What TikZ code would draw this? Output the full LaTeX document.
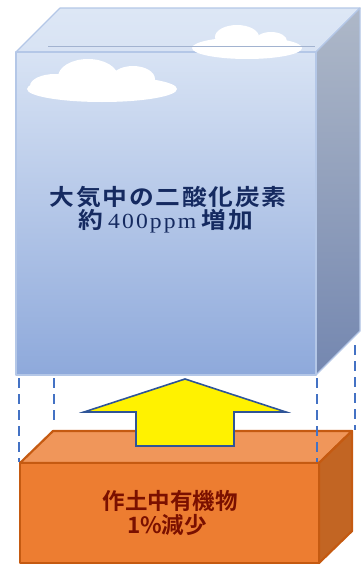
\documentclass[tikz,border=0pt]{standalone}
\usepackage{graphicx}
\usepackage{fontspec}
\newfontfamily\cjk{Noto Sans CJK JP Bold}[LetterSpace=7]
\newfontfamily\cjksoil{Noto Sans CJK JP Bold}
\newfontfamily\numfont{Liberation Serif}[LetterSpace=9]
\definecolor{skytop}{HTML}{D8E3F4}
\definecolor{skybot}{HTML}{8EA9DB}
\definecolor{skylid}{HTML}{DDE7F5}
\definecolor{skyside}{HTML}{AEB8C8}
\definecolor{skysideb}{HTML}{7487B0}
\definecolor{skyedge}{HTML}{B4C7E7}
\definecolor{soilfront}{HTML}{ED7D31}
\definecolor{soiltop}{HTML}{F0965A}
\definecolor{soilside}{HTML}{C26523}
\definecolor{soiledge}{HTML}{C55A11}
\definecolor{navytext}{HTML}{152A60}
\definecolor{redtext}{HTML}{7A1000}
\definecolor{guide}{HTML}{4472C4}
\definecolor{arrowedge}{HTML}{2F5597}
\tikzset{
  skyface/.style={draw=skyedge, line width=1.2pt, line join=round},
  soilface/.style={draw=soiledge, line width=2.2pt, line join=round},
  guideline/.style={draw=guide, line width=2.8pt, dash pattern=on 10pt off 6pt},
  cloudpart/.style={fill=white, draw=none},
  skylabel/.style={text=navytext, inner sep=0pt, anchor=center},
  soillabel/.style={text=redtext, inner sep=0pt, anchor=center},
}
\begin{document}
\begin{tikzpicture}[x=1pt, y=-1pt]
\useasboundingbox (0,0) rectangle (362,565);

% --- atmosphere block ---
\path[skyface, top color=skylid, bottom color=skytop]
  (16,52) -- (60,8) -- (360,8) -- (316,52) -- cycle;
\path[skyface, top color=skyside, bottom color=skysideb]
  (316,52) -- (360,8) -- (360,331) -- (316,375) -- cycle;
\path[skyface, top color=skytop, bottom color=skybot]
  (16,52) rectangle (316,375);

% clouds
\fill[cloudpart] (102,89) ellipse [x radius=75, y radius=13];
\fill[cloudpart] (88,77) ellipse [x radius=30, y radius=18];
\fill[cloudpart] (133,79) ellipse [x radius=22, y radius=13];
\fill[cloudpart] (55,86) ellipse [x radius=25, y radius=12];
\fill[cloudpart] (247,48) ellipse [x radius=55, y radius=11];
\fill[cloudpart] (237,37) ellipse [x radius=22, y radius=12];
\fill[cloudpart] (271,41) ellipse [x radius=16, y radius=9];
\draw[skyedge!90!black, line width=0.9pt] (48,46) -- (315,46);

% labels set in a slightly widened bold Gothic
\node[skylabel] (skyA) at (168,197) {\scalebox{1.1}[1]{\cjk\fontsize{22.5}{24}\selectfont 大気中の二酸化炭素}};
\node[skylabel] (skyB) at (166,221) {\scalebox{1.1}[1]{\fontsize{22.5}{24}\selectfont{\cjk 約}\hspace{4pt}{\numfont\fontsize{21.5}{24}\selectfont 400ppm}\hspace{5pt}{\cjk 増加}}};

% --- soil block ---
\path[soilface, fill=soiltop] (20,463) -- (53,431) -- (352,431) -- (319,463) -- cycle;
\path[soilface, fill=soilside] (319,463) -- (352,431) -- (352,531) -- (319,563) -- cycle;
\path[soilface, fill=soilfront] (20,463) rectangle (319,563);

\node[soillabel] (soilA) at (170,501) {\cjksoil\fontsize{22.5}{24}\selectfont 作土中有機物};
\node[soillabel] (soilB) at (167,525) {\cjksoil\fontsize{22.5}{24}\selectfont 1\%減少};

% --- projection guides ---
\coordinate (g1a) at (19,378);  \coordinate (g1b) at (19,462);
\coordinate (g2a) at (54,378);  \coordinate (g2b) at (54,426);
\coordinate (g3a) at (317,378); \coordinate (g3b) at (317,462);
\coordinate (g4a) at (355,345); \coordinate (g4b) at (355,430);
\draw[guideline] (g1a) -- (g1b);
\draw[guideline] (g2a) -- (g2b);
\draw[guideline] (g3a) -- (g3b);
\draw[guideline] (g4a) -- (g4b);

% --- upward flux arrow ---
\draw[draw=arrowedge, fill=yellow, line width=1.6pt, line join=miter]
  (185,379) -- (286,412) -- (234,412) -- (234,446) -- (136,446) -- (136,412) -- (84,412) -- cycle;
\end{tikzpicture}
\end{document}
